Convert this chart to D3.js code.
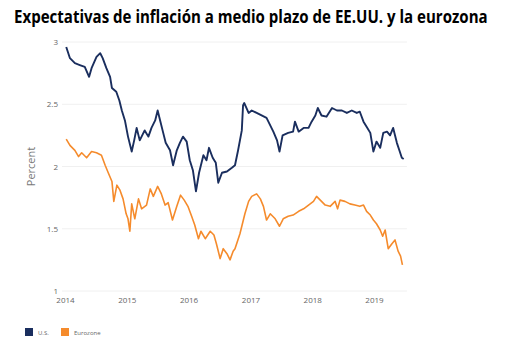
<!DOCTYPE html>
<html>
<head>
<meta charset="utf-8">
<script src="https://cdn.jsdelivr.net/npm/d3@7"></script>
<style>
  body { margin: 0; background: #fff; }
  text { font-family: "Open Sans", "DejaVu Sans", sans-serif; }
</style>
</head>
<body>
<div id="chart"></div>
<script>
// data (decimal year, percent)
var usYears = [2014.02,2014.08,2014.16,2014.24,2014.32,2014.39,2014.43,2014.51,2014.57,2014.61,2014.67,2014.73,2014.76,2014.83,2014.88,2014.92,2014.97,
  2015.02,2015.08,2015.12,2015.16,2015.21,2015.29,2015.35,2015.40,2015.46,2015.50,2015.54,2015.59,2015.63,2015.70,2015.75,2015.81,2015.86,2015.91,2015.97,
  2016.02,2016.07,2016.12,2016.17,2016.24,2016.29,2016.33,2016.39,2016.44,2016.48,2016.54,2016.62,2016.70,2016.75,2016.80,2016.86,2016.88,2016.90,2016.97,
  2017.02,2017.10,2017.18,2017.26,2017.32,2017.37,2017.43,2017.47,2017.52,2017.61,2017.69,2017.72,2017.78,2017.86,2017.94,2017.99,
  2018.05,2018.09,2018.15,2018.23,2018.32,2018.40,2018.48,2018.56,2018.64,2018.72,2018.77,2018.83,2018.88,2018.94,2018.99,
  2019.04,2019.10,2019.15,2019.21,2019.26,2019.31,2019.37,2019.41,2019.45,2019.48];
var usValues = [2.96,2.87,2.83,2.815,2.80,2.72,2.79,2.88,2.91,2.87,2.79,2.72,2.63,2.60,2.53,2.45,2.37,
  2.24,2.12,2.21,2.31,2.21,2.29,2.24,2.31,2.37,2.45,2.37,2.27,2.19,2.13,2.01,2.13,2.19,2.24,2.20,
  2.05,1.97,1.80,1.95,2.09,2.05,2.15,2.07,2.03,1.87,1.95,1.96,1.99,2.01,2.13,2.29,2.49,2.51,2.43,
  2.45,2.43,2.41,2.39,2.33,2.28,2.21,2.12,2.25,2.27,2.28,2.36,2.28,2.31,2.31,2.36,
  2.41,2.47,2.41,2.40,2.47,2.45,2.45,2.43,2.45,2.43,2.44,2.36,2.32,2.27,2.12,
  2.20,2.15,2.27,2.28,2.25,2.31,2.19,2.13,2.07,2.06];

var ezYears = [2014.02,2014.08,2014.16,2014.22,2014.27,2014.35,2014.43,2014.51,2014.59,2014.65,2014.70,2014.76,2014.79,2014.84,2014.89,2014.94,2014.99,
  2015.02,2015.05,2015.08,2015.13,2015.19,2015.24,2015.32,2015.38,2015.43,2015.50,2015.56,2015.62,2015.67,2015.74,2015.81,2015.87,2015.93,2015.99,
  2016.05,2016.10,2016.16,2016.20,2016.27,2016.35,2016.41,2016.45,2016.51,2016.56,2016.62,2016.67,2016.72,2016.75,2016.83,2016.91,2016.97,
  2017.02,2017.10,2017.16,2017.21,2017.26,2017.32,2017.40,2017.47,2017.53,2017.61,2017.69,2017.78,2017.86,2017.94,
  2018.02,2018.07,2018.13,2018.21,2018.29,2018.37,2018.41,2018.45,2018.53,2018.61,2018.69,2018.77,2018.83,2018.88,2018.94,2018.99,
  2019.04,2019.10,2019.14,2019.18,2019.23,2019.29,2019.34,2019.39,2019.43,2019.46];
var ezValues = [2.22,2.17,2.13,2.08,2.11,2.07,2.12,2.11,2.09,2.01,1.95,1.88,1.72,1.85,1.81,1.74,1.62,
  1.58,1.48,1.70,1.58,1.74,1.66,1.69,1.82,1.76,1.84,1.78,1.69,1.71,1.57,1.68,1.77,1.73,1.68,
  1.60,1.53,1.42,1.48,1.42,1.48,1.45,1.38,1.26,1.34,1.30,1.25,1.32,1.34,1.46,1.62,1.72,
  1.76,1.78,1.74,1.68,1.57,1.62,1.58,1.52,1.58,1.60,1.61,1.64,1.66,1.69,
  1.72,1.76,1.73,1.69,1.68,1.72,1.66,1.73,1.72,1.70,1.69,1.68,1.69,1.64,1.61,1.57,
  1.54,1.49,1.44,1.49,1.34,1.38,1.41,1.32,1.28,1.21];

var yTicks = [1, 1.5, 2, 2.5, 3];
var xTickYears = [2014, 2015, 2016, 2017, 2018, 2019];
var seriesNames = ["U.S.", "Eurozone"];
var seriesColors = ["#1a2e5e", "#f58b2c"];

var titleText = "Expectativas de inflación a medio plazo de EE.UU. y la eurozona";

// decimal year -> Date
function fromYear(y) {
  var yr = Math.floor(y);
  var start = new Date(yr, 0, 1), end = new Date(yr + 1, 0, 1);
  return new Date(+start + (y - yr) * (end - start));
}

var W = 517, H = 362;
var margin = {top: 42, right: 114, bottom: 71, left: 65};
var width = W - margin.left - margin.right,
    height = H - margin.top - margin.bottom;

var svg = d3.select("#chart").append("svg")
  .attr("width", W).attr("height", H);

// title: squeeze horizontally so it spans the same width as the original (condensed face)
var title = svg.append("text")
  .attr("x", 0).attr("y", 0)
  .style("font-size", "17px").style("font-weight", "bold").style("fill", "#000")
  .text(titleText);
var titleW = title.node().getComputedTextLength();
title.attr("transform", "translate(14,23) scale(" + (474 / titleW) + ",1)");

var g = svg.append("g")
  .attr("transform", "translate(" + margin.left + "," + margin.top + ")");

var x = d3.scaleTime()
  .domain([fromYear(2014), fromYear(2019.5)])
  .range([0, 61.8 * 5.5]);

var y = d3.scaleLinear()
  .domain([1, 3])
  .range([249, 0]);

// gridlines
g.selectAll(".grid")
  .data(yTicks).enter()
  .append("line")
  .attr("class", "grid")
  .attr("x1", -3).attr("x2", x(fromYear(2019.5)) + 2)
  .attr("y1", function(d) { return y(d); })
  .attr("y2", function(d) { return y(d); })
  .style("stroke", "#f0f0f0").style("stroke-width", 1);

// y axis labels
var yAxis = g.append("g")
  .call(d3.axisLeft(y).tickValues(yTicks).tickSize(0).tickPadding(7)
    .tickFormat(function(d) { return d; }));
yAxis.select(".domain").remove();
yAxis.selectAll("text").style("font-size", "8px").style("fill", "#666")
  .style("font-family", "'Open Sans', sans-serif");

// x axis labels
var xAxis = g.append("g")
  .attr("transform", "translate(0," + 249 + ")")
  .call(d3.axisBottom(x).tickValues(xTickYears.map(fromYear)).tickSize(0).tickPadding(6)
    .tickFormat(d3.timeFormat("%Y")));
xAxis.select(".domain").remove();
xAxis.selectAll("text").style("font-size", "8px").style("fill", "#666")
  .style("font-family", "'Open Sans', sans-serif");

// y axis title
g.append("text")
  .attr("transform", "translate(-30," + y(2) + ") rotate(-90)")
  .style("text-anchor", "middle")
  .style("font-size", "11px").style("fill", "#777")
  .text("Percent");

// lines
var line = d3.line()
  .x(function(d) { return x(d[0]); })
  .y(function(d) { return y(d[1]); });

var series = [
  usYears.map(function(t, i) { return [fromYear(t), usValues[i]]; }),
  ezYears.map(function(t, i) { return [fromYear(t), ezValues[i]]; })
];

g.selectAll(".line")
  .data(series).enter()
  .append("path")
  .attr("class", "line")
  .attr("d", line)
  .style("fill", "none")
  .style("stroke", function(d, i) { return seriesColors[i]; })
  .style("stroke-width", function(d, i) { return i === 0 ? 1.9 : 1.6; })
  .style("stroke-linejoin", "round");

// legend
var legend = svg.append("g").attr("transform", "translate(25,328)");
var legX = [0, 36];
seriesNames.forEach(function(name, i) {
  legend.append("rect")
    .attr("x", legX[i]).attr("y", 0)
    .attr("width", 8).attr("height", 8)
    .style("fill", seriesColors[i]);
  legend.append("text")
    .attr("x", legX[i] + 13).attr("y", 6.5)
    .style("font-size", "6px").style("fill", "#666")
    .text(name);
});
</script>
</body>
</html>
